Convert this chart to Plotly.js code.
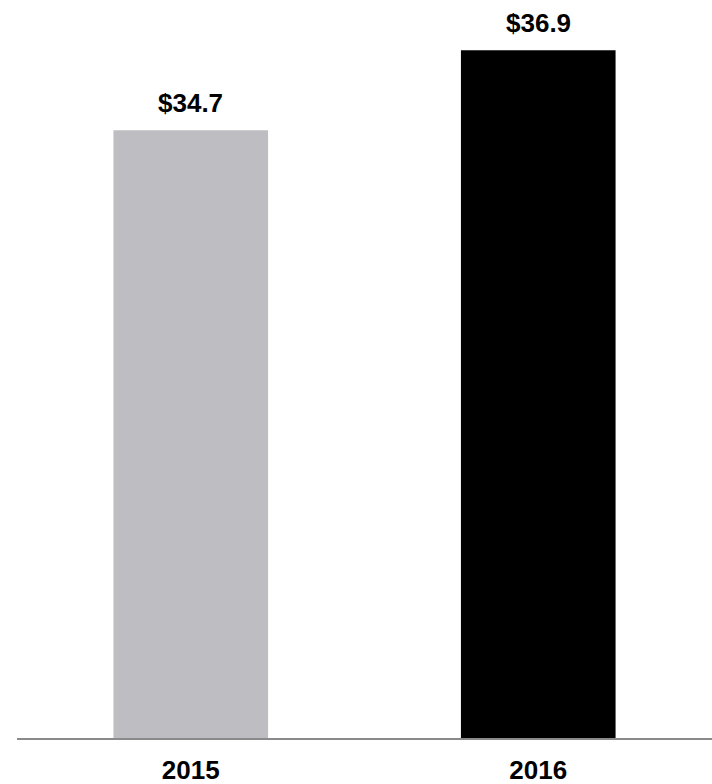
<!DOCTYPE html>
<html>
<head>
<meta charset="utf-8">
<script src="https://cdn.plot.ly/plotly-3.0.1.min.js"></script>
<style>html,body{margin:0;padding:0;background:#fff;}#chart{width:712px;height:784px;}</style>
</head>
<body>
<div id="chart"></div>
<script>
const years = ["2015", "2016"];
const values = [34.7, 36.9];
const labels = ["$34.7", "$36.9"];
const barColors = ["#bebdc2", "#000000"];

const FONT = "Liberation Sans, Arial, sans-serif";

const trace = {
  type: "bar",
  x: years,
  y: values,
  marker: {color: barColors, line: {width: 0}},
  width: 0.445,
  hoverinfo: "none"
};

const annotations = years.map((yr, i) => ({
  x: i, y: values[i], xref: "x", yref: "y",
  text: "<b>" + labels[i] + "</b>",
  showarrow: false, yanchor: "bottom", yshift: 10,
  font: {family: FONT, size: 26, color: "#000"}
}));

const layout = {
  width: 712, height: 784,
  margin: {l: 17, r: 0, t: 0, b: 46},
  paper_bgcolor: "#fff", plot_bgcolor: "#fff",
  showlegend: false,
  xaxis: {
    type: "category", range: [-0.5, 1.5],
    showline: true, linecolor: "#8a8a8a", linewidth: 2,
    ticks: "", showgrid: false, zeroline: false,
    tickfont: {family: FONT, size: 26, color: "#000", weight: "bold"},
    ticklabelstandoff: 8
  },
  yaxis: {
    range: [17.98, 38.28], visible: false, showgrid: false, zeroline: false
  },
  annotations: annotations
};

Plotly.newPlot("chart", [trace], layout, {displayModeBar: false, staticPlot: true});
</script>
</body>
</html>
